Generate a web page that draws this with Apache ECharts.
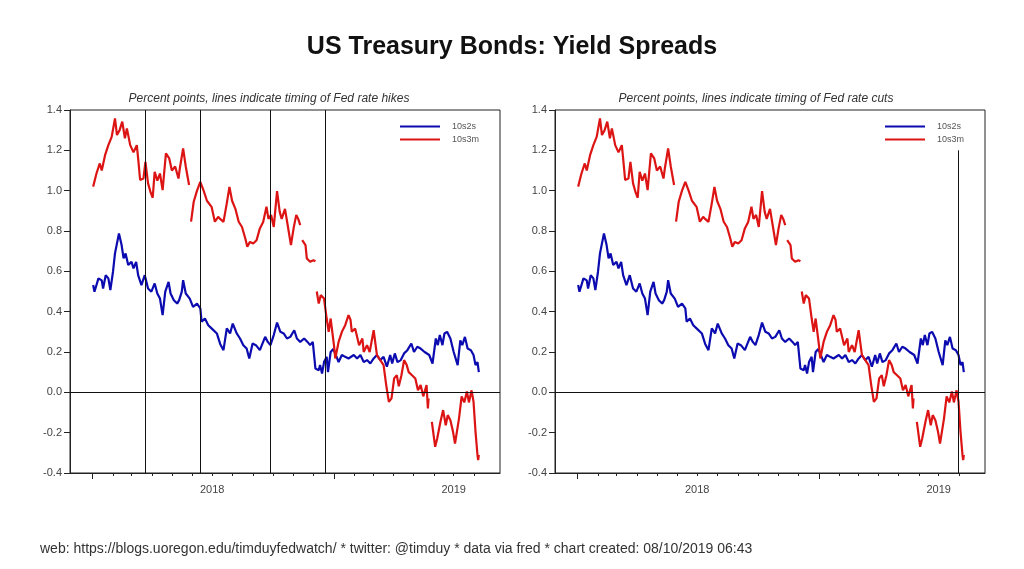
<!DOCTYPE html>
<html>
<head>
<meta charset="utf-8">
<script src="https://cdn.jsdelivr.net/npm/echarts@6/dist/echarts.min.js"></script>
<style>
html,body{margin:0;padding:0;background:#fff;}
#chart{width:1024px;height:569px;}
</style>
</head>
<body>
<div id="chart"></div>
<script>
// ---- Data ----
const s2Dates = ['2018-01-02','2018-01-04','2018-01-10','2018-01-15','2018-01-17','2018-01-21','2018-01-25','2018-01-28','2018-02-01','2018-02-04','2018-02-07','2018-02-10','2018-02-14','2018-02-17','2018-02-20','2018-02-24','2018-03-01','2018-03-04','2018-03-08','2018-03-11','2018-03-16','2018-03-21','2018-03-26','2018-03-31','2018-04-05','2018-04-09','2018-04-13','2018-04-17','2018-04-21','2018-04-26','2018-04-29','2018-05-04','2018-05-09','2018-05-12','2018-05-16','2018-05-18','2018-05-22','2018-05-28','2018-06-02','2018-06-08','2018-06-13','2018-06-15','2018-06-20','2018-06-25','2018-06-30','2018-07-08','2018-07-13','2018-07-18','2018-07-23','2018-07-28','2018-08-01','2018-08-07','2018-08-12','2018-08-17','2018-08-22','2018-08-26','2018-08-31','2018-09-05','2018-09-11','2018-09-14','2018-09-19','2018-09-23','2018-09-27','2018-10-02','2018-10-07','2018-10-12','2018-10-17','2018-10-22','2018-10-27','2018-11-02','2018-11-06','2018-11-11','2018-11-17','2018-11-22','2018-11-26','2018-11-30','2018-12-04','2018-12-09','2018-12-11','2018-12-14','2018-12-17','2018-12-21','2018-12-23','2018-12-27','2018-12-31','2019-01-05','2019-01-08','2019-01-13','2019-01-18','2019-01-23','2019-01-26','2019-01-31','2019-02-05','2019-02-10','2019-02-15','2019-02-20','2019-02-25','2019-03-02','2019-03-07','2019-03-12','2019-03-17','2019-03-22','2019-03-27','2019-03-30','2019-04-03','2019-04-07','2019-04-12','2019-04-17','2019-04-22','2019-04-28','2019-05-02','2019-05-07','2019-05-12','2019-05-18','2019-05-25','2019-05-30','2019-06-04','2019-06-07','2019-06-10','2019-06-14','2019-06-17','2019-06-21','2019-06-26','2019-07-01','2019-07-07','2019-07-11','2019-07-14','2019-07-18','2019-07-22','2019-07-27','2019-07-31','2019-08-03','2019-08-06','2019-08-08'];
const s2Values = [0.532,0.499,0.565,0.555,0.515,0.581,0.565,0.507,0.598,0.689,0.689,0.788,0.73,0.664,0.689,0.631,0.647,0.615,0.647,0.581,0.532,0.581,0.515,0.499,0.54,0.49,0.465,0.383,0.499,0.548,0.49,0.457,0.44,0.457,0.499,0.556,0.49,0.465,0.424,0.44,0.416,0.35,0.366,0.333,0.317,0.292,0.24,0.209,0.317,0.292,0.341,0.292,0.267,0.234,0.217,0.168,0.242,0.234,0.209,0.234,0.275,0.25,0.234,0.284,0.346,0.30,0.292,0.267,0.275,0.308,0.267,0.25,0.267,0.25,0.234,0.25,0.118,0.11,0.135,0.093,0.15,0.176,0.10,0.20,0.215,0.176,0.15,0.185,0.176,0.168,0.16,0.185,0.168,0.185,0.15,0.16,0.143,0.168,0.185,0.16,0.176,0.127,0.185,0.143,0.193,0.15,0.16,0.193,0.209,0.242,0.20,0.226,0.217,0.20,0.185,0.143,0.267,0.234,0.284,0.234,0.292,0.30,0.267,0.20,0.135,0.258,0.234,0.275,0.217,0.209,0.185,0.135,0.15,0.10];

const s3Dates = ['2018-01-02','2018-01-07','2018-01-12','2018-01-15','2018-01-20','2018-01-25','2018-01-30','2018-02-04','2018-02-07','2018-02-11','2018-02-15','2018-02-19','2018-02-22','2018-02-27','2018-03-04','2018-03-09','2018-03-11','2018-03-14','2018-03-19','2018-03-22','2018-03-26','2018-03-30','2018-04-02','2018-04-05','2018-04-09','2018-04-13','2018-04-17','2018-04-22','2018-04-27','2018-05-01','2018-05-06','2018-05-11','2018-05-13','2018-05-18','2018-05-22','2018-05-27','2018-05-28','2018-05-30','2018-06-03','2018-06-08','2018-06-13','2018-06-18','2018-06-23','2018-06-30','2018-07-05','2018-07-10','2018-07-13','2018-07-18','2018-07-23','2018-07-27','2018-07-31','2018-08-05','2018-08-10','2018-08-15','2018-08-20','2018-08-23','2018-08-27','2018-09-01','2018-09-06','2018-09-11','2018-09-16','2018-09-21','2018-09-24','2018-09-28','2018-10-02','2018-10-07','2018-10-11','2018-10-14','2018-10-19','2018-10-23','2018-10-28','2018-11-01','2018-11-05','2018-11-08','2018-11-11','2018-11-12','2018-11-14','2018-11-19','2018-11-21','2018-11-26','2018-12-01','2018-12-04','2018-12-05','2018-12-06','2018-12-09','2018-12-12','2018-12-17','2018-12-21','2018-12-24','2018-12-27','2019-01-01','2019-01-03','2019-01-08','2019-01-13','2019-01-18','2019-01-23','2019-01-26','2019-01-28','2019-02-02','2019-02-08','2019-02-13','2019-02-15','2019-02-20','2019-02-24','2019-03-02','2019-03-07','2019-03-12','2019-03-17','2019-03-21','2019-03-25','2019-03-29','2019-04-02','2019-04-06','2019-04-09','2019-04-13','2019-04-17','2019-04-21','2019-04-24','2019-04-29','2019-05-04','2019-05-08','2019-05-12','2019-05-16','2019-05-21','2019-05-23','2019-05-24','2019-05-27','2019-05-29','2019-06-03','2019-06-06','2019-06-11','2019-06-15','2019-06-19','2019-06-22','2019-06-26','2019-06-30','2019-07-03','2019-07-09','2019-07-13','2019-07-17','2019-07-21','2019-07-24','2019-07-28','2019-07-31','2019-08-03','2019-08-06','2019-08-07','2019-08-08'];
const s3Values = [1.02,1.085,1.135,1.10,1.176,1.226,1.267,1.358,1.276,1.30,1.342,1.26,1.309,1.226,1.19,1.226,1.16,1.053,1.06,1.143,1.036,0.99,0.965,1.094,1.05,1.085,1.003,1.185,1.16,1.10,1.12,1.06,1.11,1.21,1.12,1.028,null,0.846,0.945,1.0,1.044,1.0,0.95,0.92,0.846,0.87,0.86,0.845,0.937,1.019,0.95,0.91,0.846,0.82,0.763,0.722,0.746,0.738,0.754,0.813,0.845,0.92,0.86,0.88,0.82,0.998,0.895,0.86,0.91,0.83,0.73,0.813,0.88,0.86,0.829,null,0.755,0.73,0.664,0.647,0.655,0.65,null,0.50,0.44,0.482,0.465,0.366,0.30,0.366,0.234,0.168,0.25,0.30,0.333,0.383,0.36,0.30,0.317,0.234,0.267,0.20,0.234,0.20,0.308,0.185,0.16,0.135,0.036,-0.047,-0.03,0.069,0.085,0.03,0.085,0.16,0.135,0.10,0.085,0.069,0.01,0.036,-0.02,0.036,-0.08,-0.03,null,-0.146,-0.27,-0.23,-0.146,-0.088,-0.163,-0.113,-0.138,-0.196,-0.254,-0.13,-0.02,-0.05,0.004,-0.05,0.01,-0.047,-0.196,-0.312,-0.336,-0.31];

const hikeDates = ['2018-03-21','2018-06-13','2018-09-26','2018-12-19'];
const cutDates = ['2019-07-31'];
const yearLabelDates = ['2018-07-01','2019-07-01'];   // year labels sit mid-year
const yearTickDates = ['2018-01-01','2019-01-01'];
const axisStart = '2017-11-28', axisEnd = '2019-09-09';
const yTicks = {min: -0.4, max: 1.4, interval: 0.2};

// ---- helpers ----
const t = s => { const [y, m, d] = s.split('-').map(Number); return new Date(y, m - 1, d).getTime(); };
const pairs = (ds, vs) => ds.map((d, i) => [t(d), vs[i] === null ? '-' : vs[i]]);
const monthTicks = [];
for (let y = 2018, m = 0; y < 2019 || (y === 2019 && m <= 7); ) {
  monthTicks.push(new Date(y, m, 1).getTime());
  m++; if (m > 11) { m = 0; y++; }
}

const BLUE = '#0b0bb0', RED = '#dc1414', INK = '#222';
const FONT = '"Liberation Sans", Arial, sans-serif';
const grids = [{left: 70}, {left: 555}];

const option = {
  animation: false,
  backgroundColor: '#fff',
  textStyle: {fontFamily: FONT},
  title: [{
    text: 'US Treasury Bonds: Yield Spreads', left: 'center', top: 30,
    textStyle: {fontSize: 25, fontWeight: 'bold', color: '#111', fontFamily: FONT}
  }],
  graphic: [
    {type: 'text', x: 269, y: 99, style: {text: 'Percent points, lines indicate timing of Fed rate hikes', font: 'italic 12px ' + FONT, fill: '#333', align: 'center', verticalAlign: 'middle'}},
    {type: 'text', x: 756, y: 99, style: {text: 'Percent points, lines indicate timing of Fed rate cuts', font: 'italic 12px ' + FONT, fill: '#333', align: 'center', verticalAlign: 'middle'}},
    {type: 'text', x: 40, y: 549, style: {text: 'web: https://blogs.uoregon.edu/timduyfedwatch/ * twitter: @timduy * data via fred * chart created: 08/10/2019 06:43', font: '14px ' + FONT, fill: '#333', align: 'left', verticalAlign: 'middle'}}
  ],
  legend: grids.map(g => ({
    left: g.left + 325, top: 117, orient: 'vertical', icon: 'rect',
    itemWidth: 40, itemHeight: 2, itemGap: 4, selectedMode: false,
    data: ['10s2s', '10s3m'],
    textStyle: {fontSize: 9, color: '#555', padding: [0, 0, 0, 7], fontFamily: FONT}
  })),
  grid: grids.map(g => ({
    left: g.left, top: 110, width: 430, height: 363, show: true,
    borderColor: INK, borderWidth: 1, backgroundColor: 'transparent'
  })),
  xAxis: [],
  yAxis: [],
  series: []
};

grids.forEach((g, i) => {
  option.xAxis.push({
    type: 'value', gridIndex: i, position: 'bottom', min: t(axisStart), max: t(axisEnd),
    axisLine: {show: true, onZero: false, lineStyle: {color: INK, width: 1}},
    axisTick: {show: true, customValues: monthTicks, length: 3, lineStyle: {color: INK}},
    axisLabel: {show: true, customValues: yearLabelDates.map(t), margin: 11, fontSize: 11, color: '#444',
      formatter: v => String(new Date(v).getFullYear())},
    splitLine: {show: false}
  });
  option.xAxis.push({
    type: 'value', gridIndex: i, position: 'bottom', min: t(axisStart), max: t(axisEnd),
    axisLine: {show: false, onZero: false},
    axisTick: {show: true, customValues: yearTickDates.map(t), length: 6, lineStyle: {color: INK}},
    axisLabel: {show: false}, splitLine: {show: false}
  });
  option.yAxis.push({
    type: 'value', gridIndex: i, min: yTicks.min, max: yTicks.max, interval: yTicks.interval,
    axisLine: {show: true, onZero: false, lineStyle: {color: INK}},
    axisTick: {show: true, length: 6, lineStyle: {color: INK}},
    axisLabel: {margin: 8, fontSize: 11, color: '#444', formatter: v => v.toFixed(1)},
    splitLine: {show: false}
  });
  const marks = [{yAxis: 0}];
  if (i === 0) hikeDates.forEach(d => marks.push({xAxis: t(d)}));
  else cutDates.forEach(d => marks.push([{coord: [t(d), 1.2]}, {coord: [t(d), yTicks.min]}]));
  option.series.push({
    name: '10s2s', type: 'line', xAxisIndex: 2 * i, yAxisIndex: i,
    data: pairs(s2Dates, s2Values), symbol: 'none', showSymbol: false,
    lineStyle: {color: BLUE, width: 2.2}, itemStyle: {color: BLUE},
    emphasis: {disabled: true},
    markLine: {silent: true, symbol: ['none', 'none'], label: {show: false},
      emphasis: {disabled: true},
      lineStyle: {color: '#111', width: 1, type: 'solid'}, data: marks}
  });
  option.series.push({
    name: '10s3m', type: 'line', xAxisIndex: 2 * i, yAxisIndex: i,
    data: pairs(s3Dates, s3Values), symbol: 'none', showSymbol: false,
    lineStyle: {color: RED, width: 2.2}, itemStyle: {color: RED},
    emphasis: {disabled: true}
  });
});

const chart = echarts.init(document.getElementById('chart'), null, {renderer: 'canvas'});
chart.setOption(option);
</script>
</body>
</html>
